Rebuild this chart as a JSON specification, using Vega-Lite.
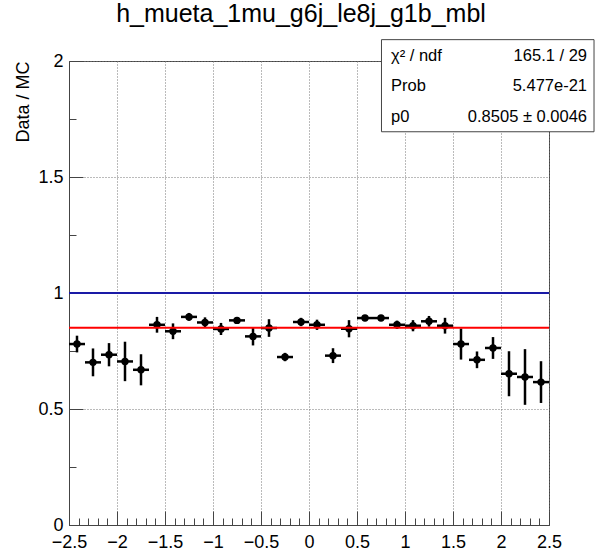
{
  "$schema": "https://vega.github.io/schema/vega-lite/v6.json",
  "width": 480,
  "height": 464,
  "autosize": {"type": "none"},
  "padding": {"left": 69, "top": 61, "right": 53, "bottom": 26},
  "background": "white",
  "config": {
    "font": "Liberation Sans",
    "view": {"stroke": "#444", "strokeWidth": 1},
    "axis": {"labelFont": "Liberation Sans", "titleFont": "Liberation Sans", "labelColor": "black", "titleColor": "black"}
  },
  "title": {
    "text": "h_mueta_1mu_g6j_le8j_g1b_mbl",
    "font": "Liberation Sans",
    "fontSize": 25,
    "fontWeight": "normal",
    "color": "black",
    "anchor": "middle",
    "baseline": "alphabetic",
    "dx": -8,
    "offset": -8
  },
  "datasets": {
    "ratio": [
      {"lo": -2.5, "hi": -2.3333, "center": -2.4167, "ratio": 0.780, "err": 0.036},
      {"lo": -2.3333, "hi": -2.1667, "center": -2.25, "ratio": 0.701, "err": 0.060},
      {"lo": -2.1667, "hi": -2.0, "center": -2.0833, "ratio": 0.734, "err": 0.050},
      {"lo": -2.0, "hi": -1.8333, "center": -1.9167, "ratio": 0.705, "err": 0.085},
      {"lo": -1.8333, "hi": -1.6667, "center": -1.75, "ratio": 0.669, "err": 0.067},
      {"lo": -1.6667, "hi": -1.5, "center": -1.5833, "ratio": 0.863, "err": 0.034},
      {"lo": -1.5, "hi": -1.3333, "center": -1.4167, "ratio": 0.835, "err": 0.034},
      {"lo": -1.3333, "hi": -1.1667, "center": -1.25, "ratio": 0.897, "err": 0.017},
      {"lo": -1.1667, "hi": -1.0, "center": -1.0833, "ratio": 0.873, "err": 0.022},
      {"lo": -1.0, "hi": -0.8333, "center": -0.9167, "ratio": 0.845, "err": 0.026},
      {"lo": -0.8333, "hi": -0.6667, "center": -0.75, "ratio": 0.882, "err": 0.009},
      {"lo": -0.6667, "hi": -0.5, "center": -0.5833, "ratio": 0.813, "err": 0.039},
      {"lo": -0.5, "hi": -0.3333, "center": -0.4167, "ratio": 0.849, "err": 0.038},
      {"lo": -0.3333, "hi": -0.1667, "center": -0.25, "ratio": 0.724, "err": 0.018},
      {"lo": -0.1667, "hi": 0.0, "center": -0.0833, "ratio": 0.875, "err": 0.018},
      {"lo": 0.0, "hi": 0.1667, "center": 0.0833, "ratio": 0.863, "err": 0.022},
      {"lo": 0.1667, "hi": 0.3333, "center": 0.25, "ratio": 0.730, "err": 0.032},
      {"lo": 0.3333, "hi": 0.5, "center": 0.4167, "ratio": 0.846, "err": 0.037},
      {"lo": 0.5, "hi": 0.6667, "center": 0.5833, "ratio": 0.892, "err": 0.013},
      {"lo": 0.6667, "hi": 0.8333, "center": 0.75, "ratio": 0.892, "err": 0.010},
      {"lo": 0.8333, "hi": 1.0, "center": 0.9167, "ratio": 0.863, "err": 0.018},
      {"lo": 1.0, "hi": 1.1667, "center": 1.0833, "ratio": 0.859, "err": 0.024},
      {"lo": 1.1667, "hi": 1.3333, "center": 1.25, "ratio": 0.878, "err": 0.023},
      {"lo": 1.3333, "hi": 1.5, "center": 1.4167, "ratio": 0.859, "err": 0.034},
      {"lo": 1.5, "hi": 1.6667, "center": 1.5833, "ratio": 0.780, "err": 0.067},
      {"lo": 1.6667, "hi": 1.8333, "center": 1.75, "ratio": 0.712, "err": 0.036},
      {"lo": 1.8333, "hi": 2.0, "center": 1.9167, "ratio": 0.763, "err": 0.047},
      {"lo": 2.0, "hi": 2.1667, "center": 2.0833, "ratio": 0.652, "err": 0.097},
      {"lo": 2.1667, "hi": 2.3333, "center": 2.25, "ratio": 0.638, "err": 0.120},
      {"lo": 2.3333, "hi": 2.5, "center": 2.4167, "ratio": 0.616, "err": 0.090}
    ],
    "fit": [{"p0": 0.8505}],
    "ref": [{"level": 1}],
    "stats": [
      {"stat": "χ² / ndf", "value": "165.1 / 29"},
      {"stat": "Prob", "value": "5.477e-21"},
      {"stat": "p0", "value": "0.8505 ± 0.0046"}
    ]
  },
  "resolve": {"scale": {"y": "independent"}, "axis": {"x": "independent", "y": "independent"}},
  "layer": [
    {
      "resolve": {"axis": {"x": "independent", "y": "independent"}},
      "layer": [
        {
          "data": {"name": "ratio"},
          "transform": [
            {"calculate": "datum.ratio - datum.err", "as": "ylo"},
            {"calculate": "datum.ratio + datum.err", "as": "yhi"}
          ],
          "mark": {"type": "rule", "color": "black", "strokeWidth": 2.5},
          "encoding": {
            "x": {
              "field": "center", "type": "quantitative",
              "scale": {"domain": [-2.5, 2.5], "nice": false, "zero": false},
              "axis": {
                "orient": "bottom", "title": null, "format": "~g",
                "values": [-2.5, -2, -1.5, -1, -0.5, 0, 0.5, 1, 1.5, 2, 2.5],
                "tickSize": -14, "tickColor": "#444", "tickWidth": 1,
                "labelPadding": 22, "labelFontSize": 18, "labelFlush": false, "labelOverlap": false,
                "grid": true, "gridDash": [1, 2], "gridColor": "#777", "gridWidth": 1,
                "domainColor": "#444", "domainWidth": 1
              }
            },
            "y": {
              "field": "ylo", "type": "quantitative",
              "scale": {"domain": [0, 2], "nice": false, "zero": false},
              "axis": {
                "orient": "left", "format": "~g",
                "values": [0, 0.5, 1, 1.5, 2],
                "tickSize": -14, "tickColor": "#444", "tickWidth": 1,
                "labelPadding": 20, "labelFontSize": 18, "labelOverlap": false,
                "grid": true, "gridDash": [1, 2], "gridColor": "#777", "gridWidth": 1,
                "domainColor": "#444", "domainWidth": 1,
                "title": "Data / MC", "titleFontSize": 18, "titleFontWeight": "normal",
                "titleAnchor": "end", "titlePadding": 5
              }
            },
            "y2": {"field": "yhi"}
          }
        },
        {
          "data": {"name": "ratio"},
          "mark": {"type": "rule", "color": "black", "strokeWidth": 2.5},
          "encoding": {
            "x": {
              "field": "lo", "type": "quantitative",
              "axis": {
                "orient": "bottom", "title": null, "labels": false, "grid": false, "domain": false,
                "values": [-2.4, -2.3, -2.2, -2.1, -1.9, -1.8, -1.7, -1.6, -1.4, -1.3, -1.2, -1.1, -0.9, -0.8, -0.7, -0.6, -0.4, -0.3, -0.2, -0.1, 0.1, 0.2, 0.3, 0.4, 0.6, 0.7, 0.8, 0.9, 1.1, 1.2, 1.3, 1.4, 1.6, 1.7, 1.8, 1.9, 2.1, 2.2, 2.3, 2.4],
                "tickSize": -7, "tickColor": "#444", "tickWidth": 1
              }
            },
            "x2": {"field": "hi"},
            "y": {
              "field": "ratio", "type": "quantitative",
              "axis": {
                "orient": "left", "title": null, "labels": false, "grid": false, "domain": false,
                "values": [0.25, 0.75, 1.25, 1.75],
                "tickSize": -7, "tickColor": "#444", "tickWidth": 1
              }
            }
          }
        },
        {
          "data": {"name": "ratio"},
          "mark": {"type": "circle", "color": "black", "opacity": 1, "size": 55},
          "encoding": {
            "x": {"field": "center", "type": "quantitative", "axis": null},
            "y": {"field": "ratio", "type": "quantitative", "axis": null}
          }
        },
        {
          "data": {"name": "ref"},
          "mark": {"type": "rule", "color": "#1a1aa6", "strokeWidth": 2},
          "encoding": {
            "y": {"field": "level", "type": "quantitative", "axis": null}
          }
        },
        {
          "data": {"name": "fit"},
          "mark": {"type": "rule", "color": "#ff0000", "strokeWidth": 2},
          "encoding": {
            "y": {"field": "p0", "type": "quantitative", "axis": null}
          }
        },
        {
          "data": {"values": [{}]},
          "mark": {"type": "rect", "fill": "white", "stroke": "#444", "strokeWidth": 1},
          "encoding": {
            "x": {"datum": 0.755, "type": "quantitative", "axis": null},
            "x2": {"datum": 2.969},
            "y": {"datum": 2.092, "type": "quantitative", "axis": null},
            "y2": {"datum": 1.695}
          }
        }
      ]
    },
    {
      "data": {"name": "stats"},
      "mark": {"type": "text", "align": "left", "baseline": "middle", "fontSize": 16.5, "font": "Liberation Sans", "color": "black"},
      "encoding": {
        "x": {"datum": 0.854, "type": "quantitative", "axis": null},
        "y": {"field": "stat", "type": "ordinal", "sort": null, "axis": null,
              "scale": {"type": "point", "range": [-5, 55.5], "padding": 0}},
        "text": {"field": "stat"}
      }
    },
    {
      "data": {"name": "stats"},
      "mark": {"type": "text", "align": "right", "baseline": "middle", "fontSize": 16.5, "font": "Liberation Sans", "color": "black"},
      "encoding": {
        "x": {"datum": 2.896, "type": "quantitative", "axis": null},
        "y": {"field": "stat", "type": "ordinal", "sort": null, "axis": null,
              "scale": {"type": "point", "range": [-5, 55.5], "padding": 0}},
        "text": {"field": "value"}
      }
    }
  ]
}
